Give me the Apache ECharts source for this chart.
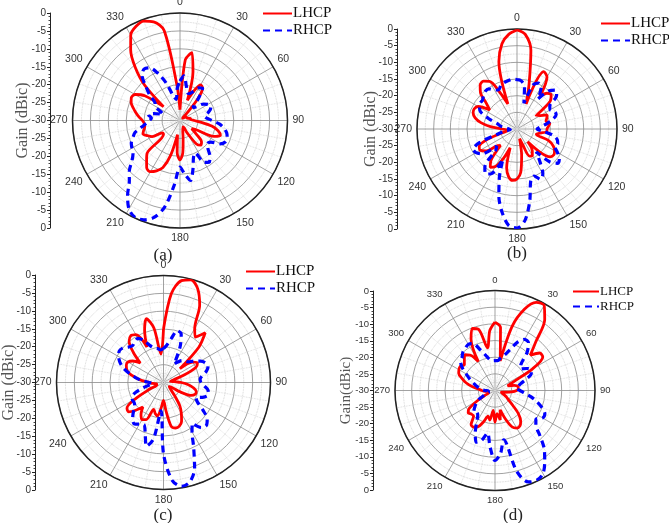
<!DOCTYPE html>
<html>
<head>
<meta charset="utf-8">
<script src="https://cdn.jsdelivr.net/npm/echarts@6/dist/echarts.min.js"></script>
<style>
  html, body { margin: 0; padding: 0; background: #fff; }
  #chart { width: 669px; height: 523px; }
</style>
</head>
<body>
<div id="chart"></div>
<script>
// angle of every sample, degrees clockwise from top
var angles = [0, 5, 10, 15, 20, 25, 30, 35, 40, 45, 50, 55, 60, 65, 70, 75, 80, 85,
  90, 95, 100, 105, 110, 115, 120, 125, 130, 135, 140, 145, 150, 155, 160, 165, 170, 175,
  180, 185, 190, 195, 200, 205, 210, 215, 220, 225, 230, 235, 240, 245, 250, 255, 260, 265,
  270, 275, 280, 285, 290, 295, 300, 305, 310, 315, 320, 325, 330, 335, 340, 345, 350, 355]
var angleTicks = ['0', '30', '60', '90', '120', '150', '180', '210', '240', '270', '300', '330']
var gainTicks = ['0', '-5', '-10', '-15', '-20', '-25', '-30']
var panelLabels = ['(a)', '(b)', '(c)', '(d)']

// gain in dBic
var lhcpA = [-27, -13, -10.8, -16, -24, -21, -18.5, -19, -23, -28, -29, -29, -28, -28, -28, -28, -27, -27,
  -26, -24, -21, -19, -18, -19.5, -25, -26, -24, -21.5, -21, -22, -26, -28, -28, -27, -25, -21,
  -19, -21, -26, -20, -16, -14.5, -13.5, -13.8, -15.5, -17, -24, -24, -21, -20, -19, -19.5, -20, -20,
  -19.5, -18.5, -17.5, -16.5, -15.5, -15, -15.5, -18, -24, -16, -10.5, -6, -2.5, -1, -0.5, -1.5, -4.5, -20]
var rhcpA = [-19, -17.5, -20, -22, -22, -21, -19.5, -19, -22, -25, -24, -22, -21, -20.5, -21, -22, -23, -22.5,
  -21, -19, -17.5, -16.5, -16, -16, -17, -19.5, -20, -19, -17, -15.8, -16.5, -20, -19, -16, -13, -15,
  -17, -12, -5.5, -2, -0.5, -0.2, -1.5, -4.5, -8, -10, -12.5, -14, -14.5, -15, -16, -17, -19, -20.5,
  -21.5, -22, -21, -22.5, -25, -24, -22, -21.5, -19, -16.5, -13.5, -12.5, -13, -15.5, -19, -23, -24, -21]
var lhcpB = [-0.3, -1.5, -6, -16, -22, -11, -12, -18, -16, -15.5, -17, -23, -22, -20, -20.5, -21, -20, -20.5,
  -21, -21, -23, -24, -20, -18, -17, -16.5, -17, -20, -25, -22, -20.8, -21, -25, -27, -22, -17,
  -15, -14.5, -15.5, -18, -24, -20, -17, -16, -18, -23, -22, -18.5, -17.2, -17.5, -20, -25, -27, -27,
  -25.5, -22, -19, -17, -16, -15.8, -16.5, -20, -18, -14.5, -12.8, -12.5, -13.5, -18, -22, -9, -4, -1.5]
var rhcpB = [-15.2, -15.5, -17, -22, -16, -14.8, -15.5, -19, -15, -13.5, -14.5, -18, -18.5, -17.5, -17.5, -19, -21, -23,
  -24, -22, -19, -17.5, -17, -17.5, -16, -14.5, -14, -16, -21, -18, -14.5, -13.3, -15, -14, -8, -2.5,
  -0.3, -1, -4.5, -9, -14.5, -20, -14.5, -13.5, -15, -21, -22, -17, -15.8, -15.5, -18, -24, -26, -28,
  -28, -27, -25, -24, -21, -18, -17, -16.5, -16.5, -15.8, -15.2, -15.3, -16.5, -17, -16, -15.5, -15.2, -15]
var lhcpC = [-15, -5, -1, -0.2, -2, -6, -12.5, -14.5, -11.8, -16, -24, -20, -19, -20, -24, -27, -28, -27,
  -25, -23, -21.5, -20.5, -20.5, -21.5, -25, -28, -28, -27, -25, -22, -20, -18, -17, -16.8, -17.5, -22,
  -25, -23, -20.5, -21, -22, -18.5, -18, -19, -21, -19, -17.2, -17.5, -21, -26, -28, -28, -28, -27,
  -26, -24, -22, -20, -19, -18.5, -18.5, -19.5, -21.5, -18, -15, -14, -14.5, -19, -14.5, -11.5, -14.5, -22]
var rhcpC = [-20.5, -19.5, -17.5, -15, -15.5, -19, -24, -23, -22, -21.5, -21, -19.5, -18, -17, -16.7, -17.5, -19, -19.7,
  -19.5, -18.5, -17.3, -17, -18, -20, -19, -16.5, -14, -13, -13.5, -16, -14, -10, -4.5, -1.2, -0.4, -2.5,
  -10, -22, -14, -11.5, -15, -17, -16.5, -15.8, -16.5, -18, -19.5, -20, -20, -20.2, -21.5, -24, -26, -27,
  -26, -24, -22, -20, -18, -16.5, -15.5, -14.8, -15, -16, -16.5, -16, -15.7, -17, -19, -20, -20.3, -20.8]
var lhcpD = [-9.5, -11, -21, -10, -4, -0.8, -0.5, -4, -11, -15, -12.5, -12.5, -17, -24, -26, -24, -23, -23,
  -23.5, -25, -27, -28, -28, -27, -26, -25, -23, -20, -18, -17, -17, -18, -21, -24, -21, -23,
  -20.5, -24, -21, -22, -20, -18, -17.3, -17.5, -20, -20, -19.5, -20.5, -24, -27, -28, -28, -28, -27,
  -26, -25, -23, -21, -19.5, -18, -17.5, -17.3, -18, -17, -16, -17, -20, -13, -10.2, -11, -17, -12]
var rhcpD = [-21, -21, -20, -19, -17, -14, -12.3, -12.5, -15, -19, -20, -18.5, -17.5, -18, -20, -22, -23, -23.5,
  -22.5, -21, -19, -17, -15, -13.5, -13.5, -15, -14, -11, -7, -4, -1.2, -0.3, -0.8, -5, -15, -11,
  -9, -13, -17, -14.5, -13.5, -16, -19, -21, -21.5, -21, -22, -23, -24, -26, -27, -28, -28, -28,
  -27, -26, -25, -24, -23, -21.5, -20, -18, -16.5, -16, -15, -14.5, -14, -14.5, -17, -19, -20.5, -21]

var lhcp = [lhcpA, lhcpB, lhcpC, lhcpD]
var rhcp = [rhcpA, rhcpB, rhcpC, rhcpD]

// layout of the four panels
var panels = [
  { center: [180, 120.5], radius: 107.5, axisX: 50, axisTop: 13, axisH: 215, titleX: 23, name: 'Gain (dBic)', legend: [262, 6, 14], label: [163, 256] },
  { center: [517, 129], radius: 100, axisX: 397, axisTop: 29, axisH: 200, titleX: 371, name: 'Gain (dBic)', legend: [600, 16, 17], label: [517, 254] },
  { center: [163.5, 382.5], radius: 107, axisX: 35, axisTop: 275, axisH: 215, titleX: 9, name: 'Gain (dBic)', legend: [245, 264, 14], label: [163, 516] },
  { center: [495, 390.5], radius: 100, axisX: 373, axisTop: 291, axisH: 199, titleX: 346, name: 'Gain(dBic)', legend: [572, 285, 12], label: [513, 516] }
]

function pairs(values) {
  var out = []
  for (var i = 0; i < angles.length; i++) out.push([values[i], angles[i]])
  out.push([values[0], 360])
  return out
}

var chart = echarts.init(document.getElementById('chart'))
var option = {
  backgroundColor: '#fff',
  animation: false,
  polar: [], angleAxis: [], radiusAxis: [],
  grid: [], xAxis: [], yAxis: [],
  legend: [], series: [], graphic: []
}

panels.forEach(function(p, i) {
  option.polar.push({ center: p.center, radius: p.radius })
  option.angleAxis.push({
    polarIndex: i,
    type: 'value', min: 0, max: 360, interval: 30,
    startAngle: 90, clockwise: true,
    axisLine: { lineStyle: { color: '#222', width: 1.5 } },
    axisTick: { show: false },
    axisLabel: {
      margin: 5, fontSize: i === 3 ? 9.5 : 10.5, color: '#333', fontFamily: 'Liberation Sans',
      formatter: function(v) { return angleTicks.indexOf(String(v)) >= 0 ? String(v) : '' }
    },
    splitLine: { lineStyle: { color: '#8a8a8a', width: 0.8 } },
    minorTick: { show: false, splitNumber: 3 },
    minorSplitLine: { show: true, lineStyle: { color: '#d4d4d4', type: 'dotted', width: 0.8 } }
  })
  option.radiusAxis.push({
    polarIndex: i,
    type: 'value', min: -30, max: 0, interval: 5,
    axisLine: { show: false }, axisTick: { show: false }, axisLabel: { show: false },
    splitLine: { lineStyle: { color: '#8a8a8a', width: 0.8 } },
    minorTick: { show: false, splitNumber: 2 },
    minorSplitLine: { show: true, lineStyle: { color: '#c8c8c8', type: 'dotted', width: 0.8 } }
  })

  // the mirrored gain scale on the left
  option.grid.push({ left: p.axisX, top: p.axisTop, height: p.axisH, width: 1 })
  option.xAxis.push({ gridIndex: i, type: 'value', show: false })
  option.yAxis.push({
    gridIndex: i, type: 'value', min: -30, max: 30, interval: 5,
    axisLine: { show: true, lineStyle: { color: '#222', width: 1 } },
    axisTick: { show: true, length: 3, lineStyle: { color: '#222' } },
    minorTick: { show: true, splitNumber: 5, length: 1.5, lineStyle: { color: '#444' } },
    axisLabel: {
      margin: 4, fontSize: i === 3 ? 9.5 : 10, color: '#333', fontFamily: 'Liberation Sans',
      formatter: function(v) { return gainTicks[6 - Math.abs(v) / 5] }
    },
    splitLine: { show: false }
  })
  // axis title, rotated
  option.graphic.push({
    type: 'text', x: p.titleX, y: p.axisTop + p.axisH / 2, rotation: Math.PI / 2,
    style: {
      text: p.name, font: (i === 3 ? 15 : 16) + 'px "Liberation Serif"', fill: '#555',
      textAlign: 'center', textVerticalAlign: 'middle'
    }
  })

  option.legend.push({
    orient: 'vertical', left: p.legend[0], top: p.legend[1], padding: 0,
    itemWidth: i === 3 ? 26 : 29, itemHeight: p.legend[2] - 2, itemGap: 2,
    itemStyle: { opacity: 0 },
    textStyle: { fontFamily: 'Liberation Serif', fontSize: i === 3 ? 13 : 15, color: '#111', padding: [0, 0, 0, -4] },
    data: ['LHCP', 'RHCP']
  })

  option.series.push({
    name: 'LHCP', type: 'line', coordinateSystem: 'polar', polarIndex: i,
    symbol: 'none', smooth: 0.3,
    lineStyle: { color: '#ff0000', width: 2.8 }, itemStyle: { color: '#ff0000' },
    data: pairs(lhcp[i])
  })
  option.series.push({
    name: 'RHCP', type: 'line', coordinateSystem: 'polar', polarIndex: i,
    symbol: 'none', smooth: 0.3,
    lineStyle: { color: '#0000ff', width: 3.2, type: [7, 5] }, itemStyle: { color: '#0000ff' },
    data: pairs(rhcp[i])
  })

  option.graphic.push({
    type: 'text', x: p.label[0], y: p.label[1],
    style: { text: panelLabels[i], font: '17px "Liberation Serif"', fill: '#222', textAlign: 'center', textVerticalAlign: 'middle' }
  })
})

chart.setOption(option)
</script>
</body>
</html>
